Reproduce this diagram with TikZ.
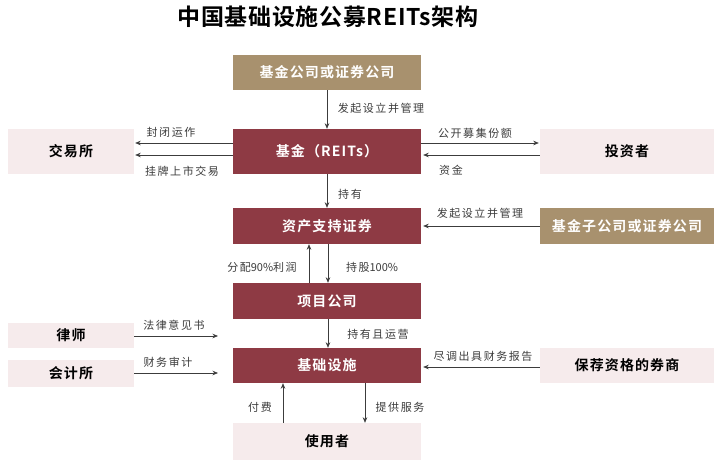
\documentclass[tikz,border=0pt]{standalone}
\usepackage{fontspec}
\setmainfont{Noto Sans CJK SC}
\newfontfamily\boxfont{Noto Sans CJK SC Bold}[LetterSpace=8]
\newfontfamily\titlefont{Noto Sans CJK SC Bold}[LetterSpace=3]
\newfontfamily\lblfont{Noto Sans CJK SC}[LetterSpace=14]
\newfontfamily\lblplain{Noto Sans CJK SC}
\usetikzlibrary{arrows.meta}
\definecolor{darkred}{RGB}{142,58,68}
\definecolor{tan}{RGB}{168,145,110}
\definecolor{pink}{RGB}{246,235,236}
\definecolor{lblgray}{RGB}{60,60,60}
\definecolor{arrgray}{RGB}{60,60,60}
\begin{document}
\begin{tikzpicture}[x=1pt,y=-1pt,
  basebox/.style={inner sep=0pt, font=\boxfont\fontsize{14}{14}\selectfont},
  redbox/.style={basebox, fill=darkred, text=white, minimum width=188pt},
  tanbox/.style={basebox, fill=tan, text=white},
  pinkbox/.style={basebox, fill=pink, text=black},
  lbl/.style={inner sep=0pt, font=\lblfont\fontsize{11}{11}\selectfont, text=lblgray},
  arr/.style={-{Stealth[length=5.5pt,width=4.5pt]}, draw=arrgray, line width=0.7pt}]
\fill[white] (0,0) rectangle (720,463);
\useasboundingbox (0,0) rectangle (720,463);

\node[inner sep=0pt, font=\titlefont\fontsize{23}{23}\selectfont] (title) at (328,17) {中国基础设施公募REITs架构};

% boxes
\node[tanbox, minimum width=188pt, minimum height=35pt] (topco) at (327,72.5) {基金公司或证券公司};
\node[redbox, minimum height=45pt] (fund) at (327,151.5) {基金（REITs）};
\node[pinkbox, minimum width=126pt, minimum height=45pt] (exch) at (71,151.5) {交易所};
\node[pinkbox, minimum width=174pt, minimum height=45pt] (inv) at (627,151.5) {投资者};
\node[redbox, minimum height=36pt] (abs) at (327,226) {资产支持证券};
\node[tanbox, minimum width=174pt, minimum height=36pt] (subco) at (627,226) {基金子公司或证券公司};
\node[redbox, minimum height=36pt] (proj) at (327,301) {项目公司};
\node[pinkbox, minimum width=126pt, minimum height=25pt] (lawyer) at (71,335) {律师};
\node[pinkbox, minimum width=126pt, minimum height=27pt] (acct) at (71,373.5) {会计所};
\node[redbox, minimum height=35pt] (infra) at (327,365.5) {基础设施};
\node[pinkbox, minimum width=174pt, minimum height=35pt] (sponsor) at (627,365.5) {保荐资格的券商};
\node[pinkbox, minimum width=188pt, minimum height=37pt] (user) at (327,441.5) {使用者};

% free ends
\coordinate (lawend) at (218,336);
\coordinate (acctend) at (218,373);

% connectors
\draw[arr] (topco) -- (fund);
\draw[arr] ([yshift=8.5pt]fund.west) -- ([yshift=8.5pt,xshift=1pt]exch.east);
\draw[arr] ([yshift=-3.5pt]fund.west) -- ([yshift=-3.5pt,xshift=1pt]exch.east);
\draw[arr] ([yshift=8.5pt]fund.east) -- ([yshift=8.5pt,xshift=-1pt]inv.west);
\draw[arr] ([yshift=-3.5pt]inv.west) -- ([yshift=-3.5pt,xshift=2pt]fund.east);
\draw[arr] (fund) -- (abs);
\draw[arr] (subco.west) -- ([xshift=2pt]abs.east);
\draw[arr] ([xshift=-18pt]proj.north) -- ([xshift=-18pt]abs.south);
\draw[arr] ([xshift=1pt]abs.south) -- ([xshift=1pt]proj.north);
\draw[arr] ([xshift=1pt]proj.south) -- ([xshift=1pt]infra.north);
\draw[arr] (lawyer.east |- lawend) -- (lawend);
\draw[arr] (acct.east |- acctend) -- (acctend);
\draw[arr] ([yshift=-1.5pt]sponsor.west) -- ([yshift=-1.5pt,xshift=2pt]infra.east);
\draw[arr] ([xshift=-44pt]user.north) -- ([xshift=-44pt]infra.south);
\draw[arr] ([xshift=38pt]infra.south) -- ([xshift=38pt]user.north);

% labels
\node[lbl] (l1) at (381,108) {发起设立并管理};
\node[lbl] (l2) at (171,132) {封闭运作};
\node[lbl] (l3) at (182,171) {挂牌上市交易};
\node[lbl] (l4) at (475,133) {公开募集份额};
\node[lbl] (l5) at (451,170) {资金};
\node[lbl] (l6) at (350,194) {持有};
\node[lbl] (l7) at (480,213) {发起设立并管理};
\node[lbl] (l8) at (262,267) {分配{\lblplain 90\%}利润};
\node[lbl] (l9) at (372,267) {持股{\lblplain 100\%}};
\node[lbl] (l10) at (174,325) {法律意见书};
\node[lbl] (l11) at (378,334) {持有且运营};
\node[lbl] (l12) at (168,362) {财务审计};
\node[lbl] (l13) at (483,356) {尽调出具财务报告};
\node[lbl] (l14) at (260,407) {付费};
\node[lbl] (l15) at (400,407) {提供服务};
\end{tikzpicture}
\end{document}
